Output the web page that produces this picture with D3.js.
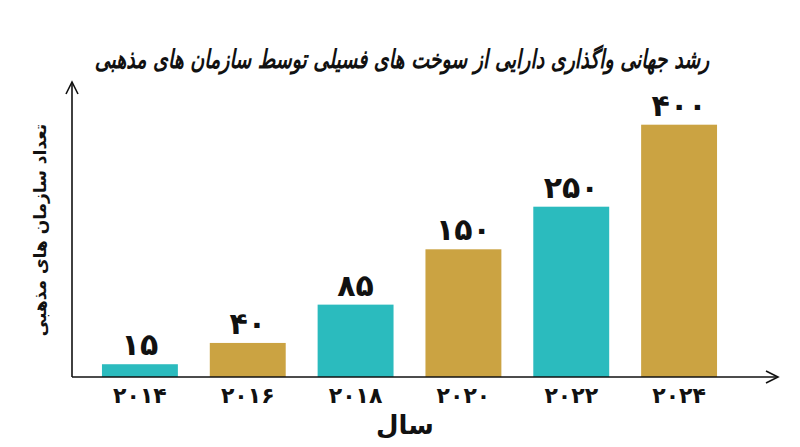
<!DOCTYPE html>
<html>
<head>
<meta charset="utf-8">
<script src="https://cdn.jsdelivr.net/npm/d3@7"></script>
<style>
  body { margin: 0; background: #fff; }
  svg { display: block; }
  text { font-family: "DejaVu Sans", sans-serif; fill: #111; }
</style>
</head>
<body>
<svg id="chart" width="800" height="447"></svg>
<script>
// data
var years = ["۲۰۱۴", "۲۰۱۶", "۲۰۱۸", "۲۰۲۰", "۲۰۲۲", "۲۰۲۴"];
var counts = [15, 40, 85, 150, 250, 400];
var countLabels = ["۱۵", "۴۰", "۸۵", "۱۵۰", "۲۵۰", "۴۰۰"];
var barColors = ["#2bbbbe", "#cba342"];

var svg = d3.select("#chart");

var baseY = 377, axisX = 72;

// band scale for years
var x = d3.scaleBand()
  .domain(years)
  .range([86, 733])
  .paddingInner(0.296)
  .paddingOuter(0.148);

// the picture is not drawn on one linear scale: the top two bars are compressed
var y = d3.scaleLinear()
  .domain([0, 150, 250, 400])
  .range([baseY, 249.3, 206.7, 124.7]);

// bars
svg.selectAll("rect.bar")
  .data(counts)
  .enter().append("rect")
  .attr("class", "bar")
  .attr("x", function(d, i) { return x(years[i]); })
  .attr("y", function(d) { return y(d); })
  .attr("width", x.bandwidth())
  .attr("height", function(d) { return baseY - y(d); })
  .attr("fill", function(d, i) { return barColors[i % 2]; });

// value labels
svg.selectAll("text.val")
  .data(counts)
  .enter().append("text")
  .attr("class", "val")
  .attr("x", function(d, i) { return x(years[i]) + x.bandwidth() / 2; })
  .attr("y", function(d) { return y(d) - 9; })
  .attr("text-anchor", "middle")
  .attr("font-size", 30)
  .attr("font-weight", "bold")
  .text(function(d, i) { return countLabels[i]; });

// axes (plain lines with open arrows)
var axes = svg.append("g").attr("stroke", "#111").attr("stroke-width", 1.6).attr("fill", "none");
axes.append("line").attr("x1", axisX).attr("y1", baseY).attr("x2", axisX).attr("y2", 82);
axes.append("path").attr("d", "M" + (axisX - 6) + ",94 L" + axisX + ",82 L" + (axisX + 6) + ",94");
axes.append("line").attr("x1", axisX).attr("y1", baseY).attr("x2", 778).attr("y2", baseY);
axes.append("path").attr("d", "M766," + (baseY - 6) + " L778," + baseY + " L766," + (baseY + 6));

// tick labels
var xAxis = d3.axisBottom(x).tickSize(0).tickPadding(10);
var gx = svg.append("g").attr("transform", "translate(0," + baseY + ")").call(xAxis);
gx.select(".domain").remove();
gx.selectAll("text")
  .attr("font-size", 22)
  .attr("font-weight", "bold")
  .attr("font-family", "DejaVu Sans, sans-serif")
  .attr("fill", "#111");

// titles
svg.append("text")
  .attr("transform", "translate(402,68) scale(1,1.35)")
  .attr("text-anchor", "middle")
  .attr("font-size", 19)
  .attr("font-weight", "bold")
  .attr("font-style", "italic")
  .text("رشد جهانی واگذاری دارایی از سوخت های فسیلی توسط سازمان های مذهبی");

svg.append("text")
  .attr("transform", "translate(46,230) rotate(-90)")
  .attr("text-anchor", "middle")
  .attr("font-size", 17)
  .attr("font-weight", "bold")
  .text("تعداد سازمان های مذهبی");

svg.append("text")
  .attr("x", 405).attr("y", 434)
  .attr("text-anchor", "middle")
  .attr("font-size", 26)
  .attr("font-weight", "bold")
  .text("سال");
</script>
</body>
</html>
